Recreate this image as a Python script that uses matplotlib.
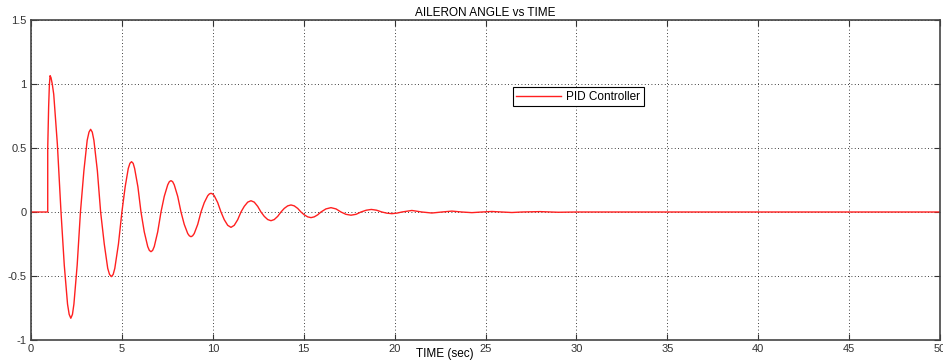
import matplotlib.pyplot as plt

# Aileron angle response, time in sec
t_vals = [0, 0.92, 0.92, 0.97, 1.01, 1.05, 1.1, 1.17, 1.25, 1.45, 1.65,
          1.83, 2.01, 2.1, 2.19, 2.28, 2.36, 2.54, 2.72,
          2.91, 3.09, 3.19, 3.28, 3.37, 3.46, 3.65, 3.83,
          4.03, 4.22, 4.32, 4.42, 4.52, 4.61, 4.81, 5.0,
          5.18, 5.35, 5.44, 5.53, 5.62, 5.7, 5.88, 6.05,
          6.23, 6.42, 6.51, 6.6, 6.69, 6.78, 6.97, 7.15,
          7.33, 7.52, 7.61, 7.7, 7.79, 7.88, 8.07, 8.25,
          8.43, 8.62, 8.71, 8.8, 8.89, 8.98, 9.17, 9.35,
          9.53, 9.72, 9.81, 9.9, 9.99, 10.08, 10.27, 10.45,
          10.63, 10.82, 11.0, 11.18, 11.37, 11.55,
          11.73, 11.92, 12.1, 12.28, 12.47, 12.65,
          12.83, 13.02, 13.2, 13.38, 13.57, 13.75,
          13.93, 14.12, 14.3, 14.48, 14.67, 14.85,
          15.03, 15.22, 15.4, 15.58, 15.77, 15.95,
          16.22, 16.5, 16.78, 17.05,
          17.32, 17.6, 17.88, 18.15,
          18.44, 18.72, 19.01, 19.3,
          19.57, 19.85, 20.12, 20.4,
          20.95, 21.5, 22.05, 22.6, 23.15, 23.7, 24.25, 24.8,
          25.35, 25.9, 26.45, 27.0, 28.0, 29.0, 30.0, 50.0]
angle = [0, 0, 0.50, 0.82, 0.99, 1.065, 1.05, 1.0, 0.92, 0.53, 0,
         -0.415, -0.72, -0.80, -0.83, -0.80, -0.72, -0.415, 0,
         0.323, 0.56, 0.624, 0.646, 0.624, 0.56, 0.323, 0,
         -0.25, -0.44, -0.488, -0.505, -0.488, -0.44, -0.25, 0,
         0.197, 0.34, 0.38, 0.393, 0.38, 0.34, 0.197, 0,
         -0.155, -0.27, -0.30, -0.31, -0.30, -0.27, -0.155, 0,
         0.122, 0.212, 0.237, 0.245, 0.237, 0.212, 0.122, 0,
         -0.097, -0.168, -0.186, -0.193, -0.186, -0.168, -0.097, 0,
         0.073, 0.127, 0.141, 0.146, 0.141, 0.127, 0.073, 0,
         -0.06, -0.104, -0.12, -0.104, -0.06, 0,
         0.044, 0.077, 0.088, 0.077, 0.044, 0,
         -0.034, -0.059, -0.068, -0.059, -0.034, 0,
         0.028, 0.048, 0.055, 0.048, 0.028, 0,
         -0.022, -0.038, -0.044, -0.038, -0.022, 0,
         0.024, 0.034, 0.024, 0,
         -0.018, -0.025, -0.018, 0,
         0.014, 0.02, 0.014, 0,
         -0.009, -0.013, -0.009, 0,
         0.012, 0, -0.008, 0, 0.007, 0, -0.005, 0,
         0.004, 0, -0.004, 0, 0.003, -0.002, 0, 0]

x_ticks = [0, 5, 10, 15, 20, 25, 30, 35, 40, 45, 50]
y_ticks = [-1, -0.5, 0, 0.5, 1, 1.5]
y_labels = ['-1', '-0.5', '0', '0.5', '1', '1.5']

plt.rcParams['font.family'] = ['Liberation Sans', 'DejaVu Sans']

fig = plt.figure(figsize=(9.43, 3.6), dpi=100)
ax = fig.add_axes([31 / 943, 20 / 360, 909 / 943, 320 / 360])

ax.plot(t_vals, angle, color='#ff2020', lw=1.0, label='PID Controller')

ax.set_xlim(0, 50)
ax.set_ylim(-1, 1.5)
ax.set_xticks(x_ticks)
ax.set_yticks(y_ticks)
ax.set_yticklabels(y_labels)
ax.tick_params(direction='in', length=4, width=0.8, labelsize=8, pad=3,
               top=True, right=True, colors='#333333')
ax.grid(True, linestyle=(0, (1, 3)), color='black', lw=0.6)
for sp in ax.spines.values():
    sp.set_color('#444444')
    sp.set_linewidth(1.2)

ax.set_title('AILERON ANGLE vs TIME', fontsize=8.5, pad=3)
ax.set_xlabel('TIME (sec)', fontsize=8.5)
ax.xaxis.set_label_coords(0.455, -0.025)

leg = ax.legend(loc='upper left', bbox_to_anchor=(0.530, 0.790), borderaxespad=0,
                fontsize=8.5, handlelength=3.8, handletextpad=0.45, borderpad=0.3,
                fancybox=False, framealpha=1, edgecolor='black')
leg.get_frame().set_linewidth(0.8)

fig.savefig('out.png', dpi=100)
